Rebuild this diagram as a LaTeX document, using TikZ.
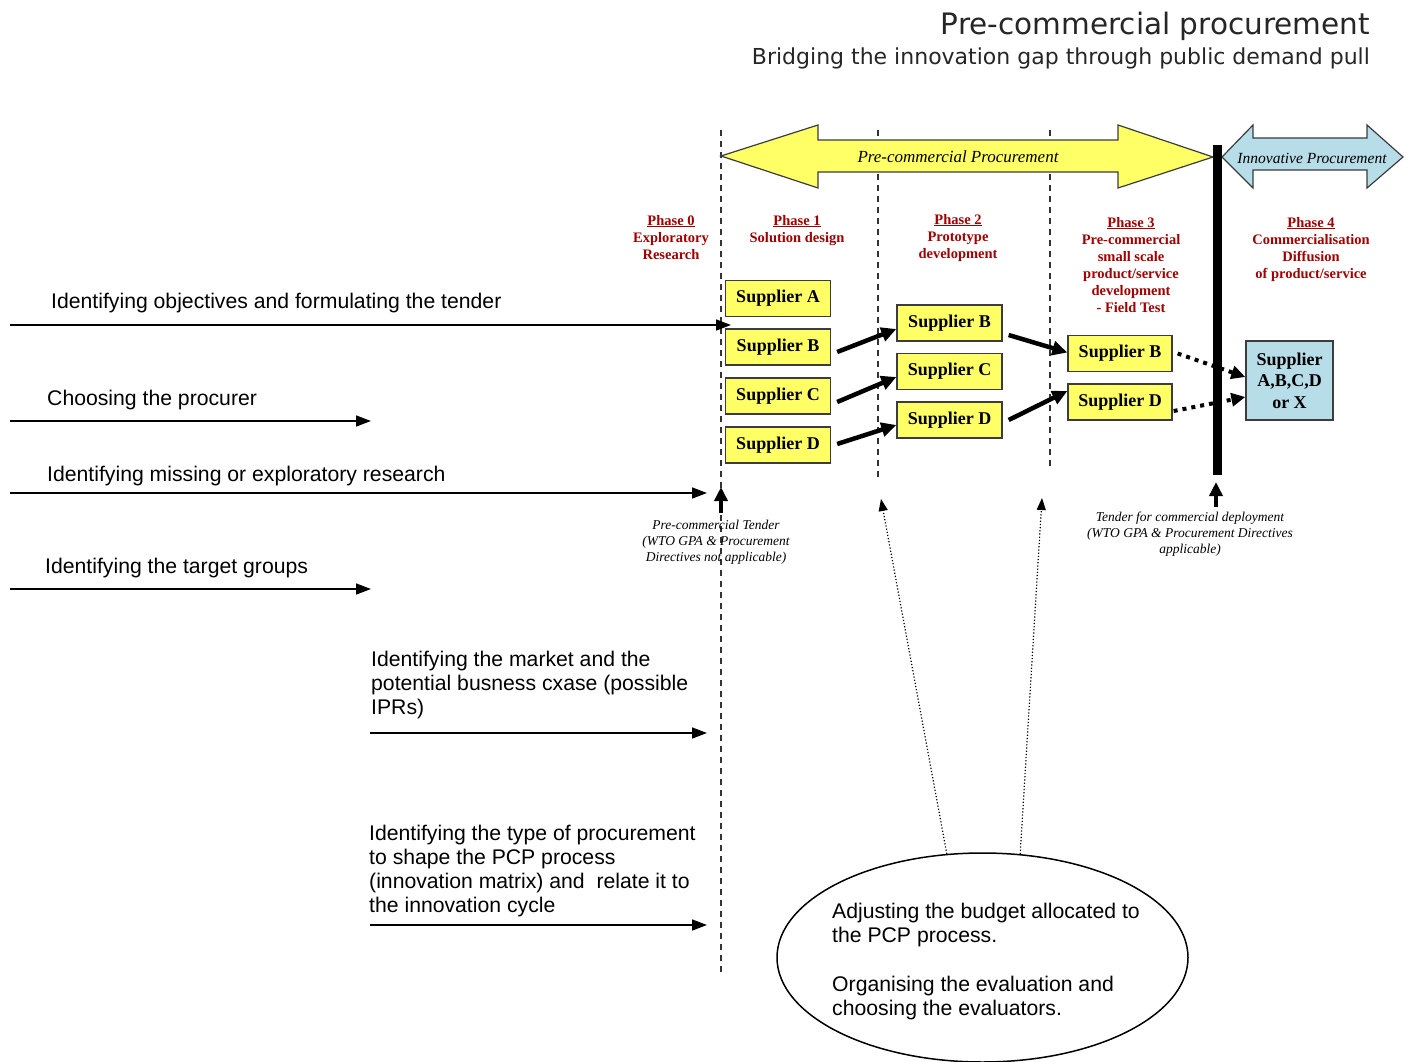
\documentclass[tikz,border=0pt]{standalone}
\usepackage{fontspec}
\setmainfont{Liberation Serif}
\setsansfont{Liberation Sans}
\newfontfamily\titlefont{DejaVu Sans}
\usetikzlibrary{arrows.meta,shapes.geometric}
\definecolor{supyellow}{RGB}{255,255,102}
\definecolor{supblue}{RGB}{183,221,232}
\definecolor{phasered}{RGB}{160,0,0}
\definecolor{framegray}{RGB}{60,60,60}
\tikzset{
  leftlabel/.style={anchor=base west, align=left, inner sep=0pt, font=\sffamily\fontsize{21.2}{24}\selectfont},
  phaselabel/.style={anchor=base, align=center, inner sep=0pt, text=phasered, font=\bfseries\fontsize{14.5}{17}\selectfont},
  supbox/.style={draw=framegray, line width=1.3pt, fill=supyellow, minimum width=105pt, minimum height=36pt, inner sep=0pt, font=\bfseries\fontsize{18}{20}\selectfont},
  bigarrow/.style={line width=4.5pt, -{Triangle[length=15pt,width=14pt]}},
  dotarrow/.style={line width=4pt, dash pattern=on 4pt off 5pt, -{Triangle[length=14pt,width=13pt]}},
  leftarrow/.style={line width=1.5pt, -{Triangle[length=15pt,width=11pt]}},
  uparrow/.style={line width=3.5pt, -{Triangle[length=14pt,width=13pt]}},
  thindots/.style={line width=1.2pt, dotted, -{Triangle[length=12pt,width=9pt]}},
  phaseline/.style={line width=1.2pt, black!80, dash pattern=on 6pt off 5pt},
  tenderlabel/.style={anchor=base, align=center, inner sep=0pt, font=\itshape\fontsize{13.5}{16}\selectfont},
  banner/.style={draw=framegray, line width=1.2pt, line join=miter}
}
\begin{document}
\begin{tikzpicture}[x=1pt,y=-1pt]
\useasboundingbox (0,0) rectangle (1408,1062);
\fill[white] (0,0) rectangle (1408,1062);

% title
\node[anchor=base east, inner sep=0pt, text=black!85, font=\titlefont\fontsize{29.5}{31}\selectfont] (title) at (1370,35) {Pre-commercial procurement};
\node[anchor=base east, inner sep=0pt, text=black!85, font=\titlefont\fontsize{22}{25}\selectfont] (subtitle) at (1370,65) {Bridging the innovation gap through public demand pull};

% phase separators
\draw[phaseline] (721,130) -- (721,975);
\draw[phaseline] (878,130) -- (878,480);
\draw[phaseline] (1050,130) -- (1050,470);

% banners
\draw[banner, fill=supyellow] (721,156) -- (818,125) -- (818,140) -- (1118,140) -- (1118,125) -- (1213,157) -- (1118,188) -- (1118,172) -- (818,172) -- (818,188) -- cycle;
\node[inner sep=0pt, font=\itshape\fontsize{17}{19}\selectfont] (pcp) at (958,157) {Pre-commercial Procurement};
\draw[banner, fill=supblue] (1222,157) -- (1253,125) -- (1253,138) -- (1367,138) -- (1367,125) -- (1403,157) -- (1367,188) -- (1367,170) -- (1253,170) -- (1253,188) -- cycle;
\node[inner sep=0pt, font=\itshape\fontsize{15.5}{18}\selectfont] (ip) at (1312,158) {Innovative Procurement};

% thick bar
\fill[black] (1213,145) rectangle (1222,475);

% phase labels (base = last line)
\node[phaselabel] (ph0) at (671,259) {\underline{Phase 0}\\Exploratory\\Research};
\node[phaselabel] (ph1) at (797,242) {\underline{Phase 1}\\Solution design};
\node[phaselabel] (ph2) at (958,258) {\underline{Phase 2}\\Prototype\\development};
\node[phaselabel] (ph3) at (1131,312) {\underline{Phase 3}\\Pre-commercial\\small scale\\product/service\\development\\- Field Test};
\node[phaselabel] (ph4) at (1311,278) {\underline{Phase 4}\\Commercialisation\\Diffusion\\of product/service};

% suppliers
\node[supbox] (s1a) at (778,298.5) {Supplier A};
\node[supbox] (s1b) at (778,347) {Supplier B};
\node[supbox] (s1c) at (778,396) {Supplier C};
\node[supbox] (s1d) at (778,445) {Supplier D};
\node[supbox] (s2b) at (949.5,323) {Supplier B};
\node[supbox] (s2c) at (949.5,371.5) {Supplier C};
\node[supbox] (s2d) at (949.5,420) {Supplier D};
\node[supbox, minimum width=104pt] (s3b) at (1120,353.5) {Supplier B};
\node[supbox, minimum width=104pt] (s3d) at (1120,402) {Supplier D};
\node[supbox, fill=supblue, minimum width=87pt, minimum height=79pt, align=center, font=\bfseries\fontsize{18}{21.5}\selectfont] (sx) at (1289.5,380.5) {Supplier\\A,B,C,D\\or X};

% supplier flows
\draw[bigarrow] ([shift={(6pt,-5pt)}]s1b.east) -- ([yshift=-6pt]s2b.west);
\draw[bigarrow] ([shift={(6pt,-6pt)}]s1c.east) -- ([yshift=-5.5pt]s2c.west);
\draw[bigarrow] ([shift={(6pt,1pt)}]s1d.east) -- ([yshift=-5pt]s2d.west);
\draw[bigarrow] ([shift={(6pt,-12pt)}]s2b.east) -- ([yshift=1pt]s3b.west);
\draw[bigarrow] ([shift={(6pt,0pt)}]s2d.east) -- ([yshift=11pt]s3d.west);
\draw[dotarrow] ([xshift=5pt]s3b.east) -- ([yshift=3.5pt]sx.west);
\draw[dotarrow] ([shift={(1pt,-9pt)}]s3d.east) -- ([yshift=-16.5pt]sx.west);

% tender markers
\coordinate (t1a) at (721,513);
\coordinate (t1b) at (721,487);
\draw[uparrow] (t1a) -- (t1b);
\node[tenderlabel] (t1) at (716,561) {Pre-commercial Tender\\(WTO GPA \& Procurement\\Directives not applicable)};
\coordinate (t2a) at (1216,507);
\coordinate (t2b) at (1216,482);
\draw[uparrow] (t2a) -- (t2b);
\node[tenderlabel] (t2) at (1190,553) {Tender for commercial deployment\\(WTO GPA \& Procurement Directives\\applicable)};

% left activities
\node[leftlabel] (l1) at (51,308) {Identifying objectives and formulating the tender};
\coordinate (a1s) at (10,325); \coordinate (a1e) at (731,325);
\draw[leftarrow] (a1s) -- (a1e);
\node[leftlabel] (l2) at (47,405) {Choosing the procurer};
\coordinate (a2s) at (10,421); \coordinate (a2e) at (371,421);
\draw[leftarrow] (a2s) -- (a2e);
\node[leftlabel] (l3) at (47,481) {Identifying missing or exploratory research};
\coordinate (a3s) at (10,493); \coordinate (a3e) at (707,493);
\draw[leftarrow] (a3s) -- (a3e);
\node[leftlabel] (l4) at (45,573) {Identifying the target groups};
\coordinate (a4s) at (10,589); \coordinate (a4e) at (371,589);
\draw[leftarrow] (a4s) -- (a4e);
\node[leftlabel] (l5) at (371,714) {Identifying the market and the\\potential busness cxase (possible\\IPRs)};
\coordinate (a5s) at (370,733); \coordinate (a5e) at (707,733);
\draw[leftarrow] (a5s) -- (a5e);
\node[leftlabel] (l6) at (369,912) {Identifying the type of procurement\\to shape the PCP process\\(innovation matrix) and\ \ relate it to\\the innovation cycle};
\coordinate (a6s) at (370,925); \coordinate (a6e) at (707,925);
\draw[leftarrow] (a6s) -- (a6e);

% ellipse
\node[draw, ellipse, line width=1.5pt, minimum width=411pt, minimum height=209pt, inner sep=0pt] (ell) at (982.5,957.5) {};
\node[leftlabel] (etext) at (832,1015) {Adjusting the budget allocated to\\the PCP process.\\[25pt]Organising the evaluation and\\choosing the evaluators.};
\coordinate (p1) at (881,499);
\coordinate (p2) at (1042,498);
\draw[thindots] (ell.109) -- (p1);
\draw[thindots] (ell.70) -- (p2);
\end{tikzpicture}
\end{document}
